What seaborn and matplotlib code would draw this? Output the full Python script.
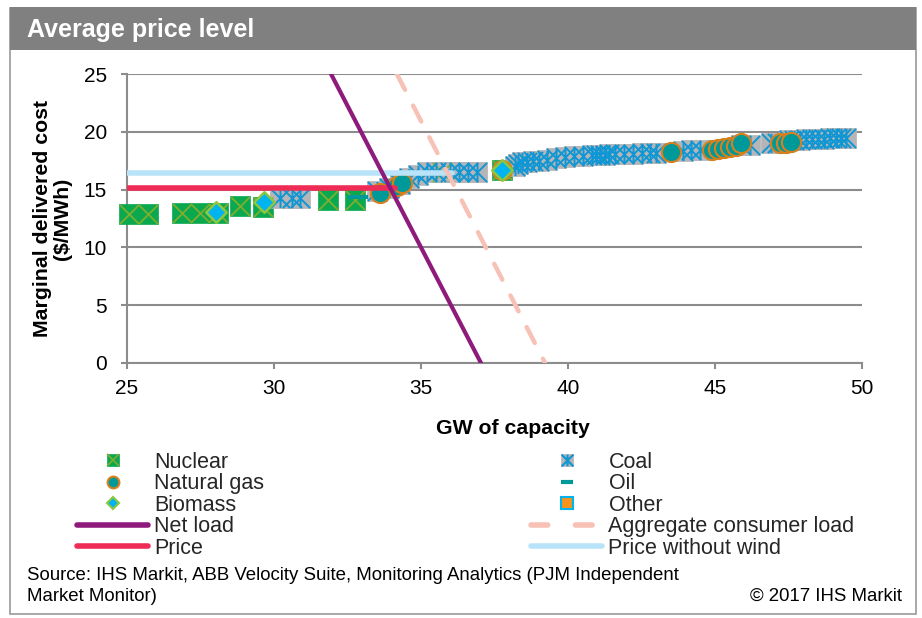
import numpy as np
import pandas as pd
import matplotlib
matplotlib.use("Agg")
import matplotlib.pyplot as plt
import seaborn as sns
from matplotlib.lines import Line2D
from matplotlib.path import Path
from matplotlib.patches import Rectangle

# ---------------- data ----------------
nuclear_gw = [25.07, 25.71, 26.87, 27.48, 28.10, 28.84, 29.63, 31.84, 32.76, 35.70, 37.76]
nuclear_cost = [12.9, 12.9, 13.0, 13.0, 13.0, 13.6, 13.5, 14.1, 14.1, 16.5, 16.7]

coal_gw = [30.2, 30.6, 30.9, 33.5, 33.9, 34.3, 34.6, 34.9, 35.2, 35.5, 36.0, 36.3, 36.6, 36.9,
           38.2, 38.3, 38.45, 38.6, 38.8, 39.0, 39.3, 39.6, 39.9, 40.2, 40.5, 40.8, 40.95,
           41.1, 41.25, 41.4, 41.6, 41.9, 42.2, 42.5, 42.8, 43.0, 43.9, 44.2, 44.5, 45.9,
           46.2, 46.9, 47.1, 47.5, 47.7, 47.9, 48.1, 48.3, 48.5, 48.7, 48.9, 49.1, 49.3, 49.45]
coal_cost = [14.3, 14.3, 14.3, 14.9, 15.1, 15.5, 16.0, 16.3, 16.5, 16.5, 16.5, 16.5, 16.5, 16.5,
             17.0, 17.2, 17.4, 17.4, 17.5, 17.5, 17.6, 17.7, 17.8, 17.9, 17.9, 18.0, 18.0,
             18.0, 18.0, 18.1, 18.1, 18.1, 18.1, 18.2, 18.2, 18.2, 18.3, 18.4, 18.4, 18.9,
             18.9, 19.0, 19.0, 19.3, 19.3, 19.3, 19.4, 19.4, 19.4, 19.4, 19.5, 19.5, 19.5, 19.5]

gas_gw = [33.6, 34.2, 34.35, 37.76, 43.5, 44.9, 45.1, 45.3, 45.5, 45.7, 45.9, 47.2, 47.4, 47.6]
gas_cost = [14.7, 15.3, 15.6, 16.7, 18.25, 18.4, 18.5, 18.6, 18.7, 18.8, 19.0, 19.0, 19.0, 19.1]

biomass_gw = [28.03, 29.66, 37.76]
biomass_cost = [13.1, 13.9, 16.7]

oil_gw = [32.86]
oil_cost = [14.4]

other_gw = []
other_cost = []

net_load_gw = [31.94, 37.04]
net_load_cost = [25, 0]

aggregate_gw = [34.18, 39.22]
aggregate_cost = [25, 0]

price_gw = [25.0, 34.1]
price_cost = [15.14, 15.14]

price_nowind_gw = [25.0, 36.05]
price_nowind_cost = [16.46, 16.46]

x_ticks = [25, 30, 35, 40, 45, 50]
y_ticks = [0, 5, 10, 15, 20, 25]

# ---------------- style ----------------
sns.set_theme(style="white")
plt.rcParams['font.family'] = ['Liberation Sans', 'DejaVu Sans']

W, H = 922, 618
fig = plt.figure(figsize=(W / 100, H / 100), dpi=100)

def fx(px):
    return px / W

def fy(py):
    return 1 - py / H

# frame and title bar
fig.patches.append(Rectangle((fx(10), fy(614)), fx(906), 606 / H, transform=fig.transFigure,
                             fill=False, edgecolor='#9a9a9a', linewidth=1.2))
fig.patches.append(Rectangle((fx(10), fy(50)), fx(906), 43 / H, transform=fig.transFigure,
                             facecolor='#808080', edgecolor='none'))
fig.text(fx(27), fy(30), "Average price level", color='white', fontsize=18,
         fontweight='bold', va='center', ha='left')

ax = fig.add_axes([fx(127), fy(363), fx(862 - 127), (363 - 74) / H])

GREEN = '#0aa84f'
OLIVE = '#7fae2e'
GREY = '#b5b5b8'
BLUE = '#0f96d4'
TEAL = '#00999a'
ORANGE = '#d8801c'
CYAN = '#00b4f0'
LIME = '#8dc63f'

star = Path([(-0.5, -0.5), (0.5, 0.5), (-0.5, 0.5), (0.5, -0.5), (0, -0.5), (0, 0.5)],
            [Path.MOVETO, Path.LINETO, Path.MOVETO, Path.LINETO, Path.MOVETO, Path.LINETO])

S = 190
# Nuclear
sns.scatterplot(x=nuclear_gw, y=nuclear_cost, ax=ax, marker='s', s=S, color=GREEN,
                edgecolor=GREEN, linewidth=0.5, zorder=3, clip_on=False)
sns.scatterplot(x=nuclear_gw, y=nuclear_cost, ax=ax, marker='x', s=S, color=OLIVE,
                linewidth=1.3, zorder=3.1, clip_on=False)
# Coal
sns.scatterplot(x=coal_gw, y=coal_cost, ax=ax, marker='s', s=S, color=GREY,
                edgecolor=GREY, linewidth=0.5, zorder=3)
sns.scatterplot(x=coal_gw, y=coal_cost, ax=ax, marker=star, s=S, color=BLUE,
                edgecolor=BLUE, linewidth=1.4, zorder=3.1)
# Biomass
sns.scatterplot(x=biomass_gw, y=biomass_cost, ax=ax, marker='D', s=110, color=CYAN,
                edgecolor=LIME, linewidth=1.8, zorder=3.3)
# Natural gas
sns.scatterplot(x=gas_gw, y=gas_cost, ax=ax, marker='o', s=S, color=TEAL,
                edgecolor=ORANGE, linewidth=1.5, zorder=3.2)
# Oil
sns.scatterplot(x=oil_gw, y=oil_cost, ax=ax, marker='_', s=S, color=TEAL,
                linewidth=3, zorder=3.4)
# Other
ax.scatter(other_gw, other_cost, marker='s', s=S, color='#f7941d', edgecolor=CYAN,
           linewidth=1.5, zorder=3.4)

# Lines
PURPLE = '#8e1a7c'
PINK = '#f8c1b5'
RED = '#ee2c55'
LBLUE = '#b8e3f8'
sns.lineplot(x=price_nowind_gw, y=price_nowind_cost, ax=ax, color=LBLUE, linewidth=4,
             sort=False, estimator=None, zorder=4)
sns.lineplot(x=price_gw, y=price_cost, ax=ax, color=RED, linewidth=4,
             sort=False, estimator=None, zorder=4)
sns.lineplot(x=aggregate_gw, y=aggregate_cost, ax=ax, color=PINK, linewidth=3.2,
             sort=False, estimator=None, zorder=4, linestyle=(0, (4, 4)),
             dash_capstyle='round')
sns.lineplot(x=net_load_gw, y=net_load_cost, ax=ax, color=PURPLE, linewidth=3,
             sort=False, estimator=None, zorder=4.5)

ax.set_xlim(25, 50)
ax.set_ylim(0, 25)
ax.set_xticks(x_ticks)
ax.set_yticks(y_ticks)
ax.set_xticklabels([str(t) for t in x_ticks])
ax.set_yticklabels([str(t) for t in y_ticks])
ax.grid(axis='y', color='#8c8c8c', linewidth=1.5)
ax.set_axisbelow(True)
for side in ['top', 'right']:
    ax.spines[side].set_visible(False)
for side in ['left', 'bottom']:
    ax.spines[side].set_color('#8c8c8c')
    ax.spines[side].set_linewidth(1.5)
ax.tick_params(axis='both', which='major', length=4.5, width=1.5, color='#8c8c8c',
               labelsize=15, labelcolor='black', direction='out', bottom=True, left=True)
ax.tick_params(axis='x', pad=7)
ax.tick_params(axis='y', pad=10)

ax.set_xlabel("GW of capacity", fontsize=15.3, fontweight='bold', color='black')
ax.xaxis.set_label_coords((513 - 127) / 735, -(419 - 363) / 289)
ax.set_ylabel("Marginal delivered cost\n($/MWh)", fontsize=15.3, fontweight='bold',
              color='black', linespacing=1.05)
ax.yaxis.set_label_coords(-(127 - 72) / 735, 0.5)

# Legends
def mk(marker, fc, ec, ms=9, mew=1.0):
    return Line2D([], [], linestyle='none', marker=marker, markerfacecolor=fc,
                  markeredgecolor=ec, markersize=ms, markeredgewidth=mew)

h_nuc = (mk('s', GREEN, GREEN, 8.5, 0.5), mk('x', OLIVE, OLIVE, 8.5, 1.2))
h_gas = mk('o', TEAL, ORANGE, 8.5, 1.5)
h_bio = mk('D', CYAN, LIME, 6.5, 1.5)
h_net = Line2D([], [], color=PURPLE, linewidth=4, solid_capstyle='round')
h_price = Line2D([], [], color=RED, linewidth=4, solid_capstyle='round')
h_coal = (mk('s', GREY, GREY, 8.5, 0.5), mk(star, BLUE, BLUE, 8.5, 1.5))
h_oil = mk('_', TEAL, TEAL, 8.5, 3)
h_other = mk('s', '#f7941d', CYAN, 8.5, 1.5)
h_agg = Line2D([], [], color=PINK, linewidth=4, linestyle=(0, (3, 5)),
               dash_capstyle='round')
h_nowind = Line2D([], [], color=LBLUE, linewidth=4, solid_capstyle='round')

common = dict(frameon=False, fontsize=15.5, handlelength=3.3, handletextpad=0.3,
              labelspacing=0.02, borderpad=0, borderaxespad=0,
              loc='upper left', bbox_transform=fig.transFigure)
leg1 = fig.legend([h_nuc, h_gas, h_bio, h_net, h_price],
                  ["Nuclear", "Natural gas", "Biomass", "Net load", "Price"],
                  bbox_to_anchor=(fx(77), fy(452)), **common)
leg2 = fig.legend([h_coal, h_oil, h_other, h_agg, h_nowind],
                  ["Coal", "Oil", "Other", "Aggregate consumer load", "Price without wind"],
                  bbox_to_anchor=(fx(531), fy(452)), **common)

fig.text(fx(27), fy(567), "Source: IHS Markit, ABB Velocity Suite, Monitoring Analytics (PJM Independent\nMarket Monitor)",
         fontsize=13.4, va='top', ha='left', color='black', linespacing=1.3)
fig.text(fx(902), fy(596), "© 2017 IHS Markit", fontsize=13.4, va='center', ha='right',
         color='black')

fig.savefig("out.png", dpi=100)
